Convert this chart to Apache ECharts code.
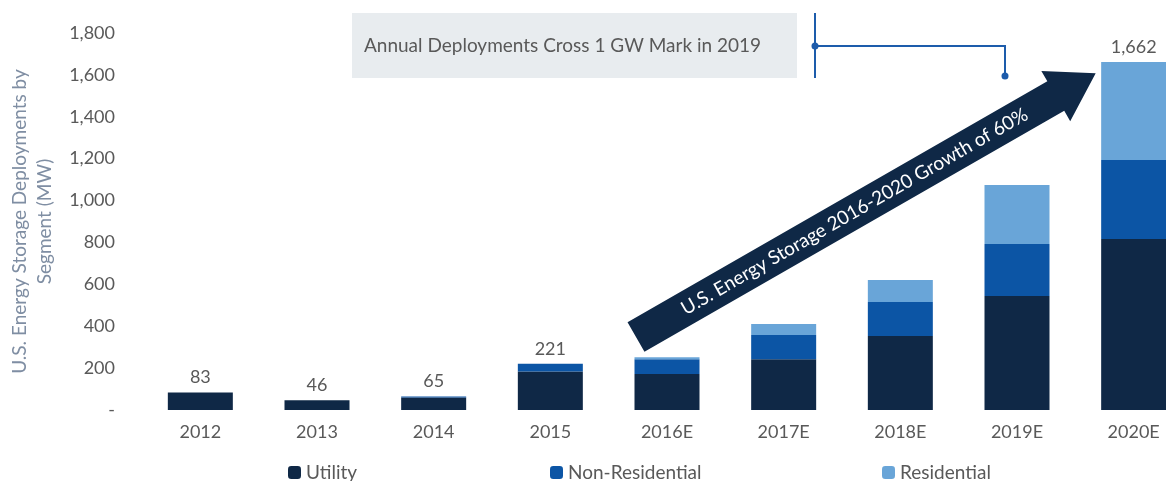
<!DOCTYPE html>
<html>
<head>
    <meta charset="utf-8">
    <script src="https://cdn.jsdelivr.net/npm/echarts@6/dist/echarts.min.js"></script>
</head>
<body style="margin:0">
<div id="main" style="width:1166px;height:481px;"></div>
<script type="text/javascript">
    // categories and segment values (MW)
    var years = ['2012', '2013', '2014', '2015', '2016E', '2017E', '2018E', '2019E', '2020E'];
    var utility = [83, 46, 60, 184, 172, 242, 353, 544, 817];
    var nonResidential = [0, 0, 5, 37, 70, 116, 163, 249, 377];
    var residential = [0, 0, 0, 0, 10, 53, 105, 281, 468];
    // totals printed above some bars
    var totalLabels = ['83', '46', '65', '221', '', '', '', '', '1,662'];

    var font = 'Lato';
    var myChart = echarts.init(document.getElementById('main'));

    var legendText = { fontSize: 19, color: '#595959', fontFamily: font };

    var option = {
        animation: false,
        textStyle: { fontFamily: font },
        grid: { left: 142, top: 33, width: 1050, height: 377, outerBoundsMode: 'none', containLabel: false },
        legend: [
            { data: ['Utility'], left: 283, top: 458, itemWidth: 13, itemHeight: 13, textStyle: legendText },
            { data: ['Non-Residential'], left: 545, top: 458, itemWidth: 13, itemHeight: 13, textStyle: legendText },
            { data: ['Residential'], left: 877, top: 458, itemWidth: 13, itemHeight: 13, textStyle: legendText }
        ],
        xAxis: {
            type: 'category',
            data: years,
            axisLine: { show: false },
            axisTick: { show: false },
            axisLabel: { color: '#595959', fontSize: 18, margin: 13 }
        },
        yAxis: {
            type: 'value',
            min: 0,
            max: 1800,
            interval: 200,
            name: 'U.S. Energy Storage Deployments by\nSegment (MW)',
            nameLocation: 'middle',
            nameRotate: 90,
            nameGap: 85,
            nameTextStyle: { color: '#7f8ea3', fontSize: 19, lineHeight: 25 },
            splitLine: { show: false },
            axisLabel: {
                color: '#595959', fontSize: 18, margin: 27,
                formatter: function (v) { return v === 0 ? '-' : v.toLocaleString('en-US'); }
            }
        },
        series: [
            { name: 'Utility', type: 'bar', stack: 'a', barWidth: 65, data: utility, itemStyle: { color: '#0f2846' } },
            { name: 'Non-Residential', type: 'bar', stack: 'a', barWidth: 65, data: nonResidential, itemStyle: { color: '#0c55a5' } },
            {
                name: 'Residential', type: 'bar', stack: 'a', barWidth: 65, data: residential,
                itemStyle: { color: '#69a5d8' },
                label: {
                    show: true, position: 'top', distance: 6, color: '#595959', fontSize: 18,
                    formatter: function (p) { return totalLabels[p.dataIndex]; }
                }
            }
        ],
        graphic: [
            // annotation box
            { type: 'rect', shape: { x: 352, y: 13, width: 445, height: 65 }, style: { fill: '#e8ecef' } },
            { type: 'text', x: 364, y: 46, style: { text: 'Annual Deployments Cross 1 GW Mark in 2019', fill: '#595959', fontSize: 19, fontFamily: font, verticalAlign: 'middle' } },
            // bracket
            { type: 'polyline', shape: { points: [[815, 13], [815, 78]] }, style: { stroke: '#1d5cab', lineWidth: 2 } },
            { type: 'polyline', shape: { points: [[815, 46], [1005, 46], [1005, 76]] }, style: { stroke: '#1d5cab', lineWidth: 2, fill: null } },
            { type: 'circle', shape: { cx: 815, cy: 46, r: 3.5 }, style: { fill: '#1d5cab' } },
            { type: 'circle', shape: { cx: 1005, cy: 76, r: 3.5 }, style: { fill: '#1d5cab' } },
            // growth arrow
            {
                type: 'group', x: 636, y: 337, rotation: 0.521,
                children: [
                    { type: 'polygon', shape: { points: [[0, -17], [484, -17], [484, -29], [530, 0], [484, 29], [484, 17], [0, 17]] }, style: { fill: '#0f2846' } },
                    { type: 'text', x: 252, y: 0, style: { text: 'U.S. Energy Storage 2016-2020 Growth of 60%', fill: '#ffffff', fontSize: 19, fontFamily: font, align: 'center', verticalAlign: 'middle' } }
                ]
            }
        ]
    };
    myChart.setOption(option);
</script>
</body>
</html>
